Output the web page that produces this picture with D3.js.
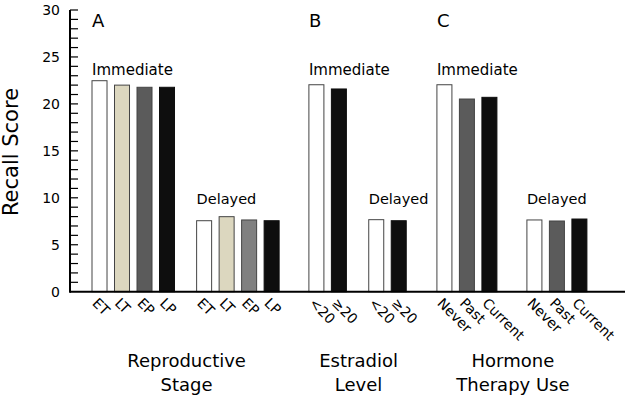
<!DOCTYPE html>
<html>
<head>
<meta charset="utf-8">
<script src="https://cdn.jsdelivr.net/npm/d3@7/dist/d3.min.js"></script>
<style>
  body { margin: 0; background: #fff; }
  svg { display: block; font-family: "DejaVu Sans", Verdana, sans-serif; }
</style>
</head>
<body>
<svg id="chart" width="629" height="400"></svg>
<script>
// ---- data ----
const panelLetters = ["A", "B", "C"];
const panelTitles = [["Reproductive", "Stage"], ["Estradiol", "Level"], ["Hormone", "Therapy Use"]];
const measureLabels = ["Immediate", "Delayed"];

const reproCats = ["ET", "LT", "EP", "LP"];
const reproImmediate = [22.47, 22.0, 21.77, 21.77];
const reproDelayed = [7.56, 7.99, 7.64, 7.56];

const estradiolCats = ["<20", "≥20"];
const estradiolImmediate = [22.04, 21.59];
const estradiolDelayed = [7.67, 7.56];

const hormoneCats = ["Never", "Past", "Current"];
const hormoneImmediate = [22.04, 20.52, 20.70];
const hormoneDelayed = [7.64, 7.53, 7.74];

const yTickLabels = [0, 5, 10, 15, 20, 25, 30];

// ---- styling / layout ----
const colors = {
  A: [["#ffffff", "#dcd7bf", "#5b5b5b", "#0e0e0e"], ["#ffffff", "#dcd7bf", "#808080", "#0e0e0e"]],
  B: [["#ffffff", "#0e0e0e"], ["#ffffff", "#0e0e0e"]],
  C: [["#ffffff", "#5b5b5b", "#0e0e0e"], ["#ffffff", "#5b5b5b", "#0e0e0e"]]
};
const groupStarts = { A: [0, 4.65], B: [9.64, 12.3], C: [15.33, 19.33] };
const panelData = {
  A: { cats: reproCats, vals: [reproImmediate, reproDelayed] },
  B: { cats: estradiolCats, vals: [estradiolImmediate, estradiolDelayed] },
  C: { cats: hormoneCats, vals: [hormoneImmediate, hormoneDelayed] }
};

const svg = d3.select("#chart");
const x = d3.scaleLinear().domain([-0.978, 23.69]).range([70, 625]);
const y = d3.scaleLinear().domain([0, 30]).range([291.7, 10]);
const barW = x(0.667) - x(0);

// bars
panelLetters.forEach((p, pi) => {
  const pd = panelData[p];
  pd.vals.forEach((series, gi) => {
    const start = groupStarts[p][gi];
    const g = svg.append("g");
    g.selectAll("rect").data(series).join("rect")
      .attr("x", (d, i) => x(start + i))
      .attr("y", d => y(d))
      .attr("width", barW)
      .attr("height", d => y(0) - y(d))
      .attr("fill", (d, i) => colors[p][gi][i])
      .attr("stroke", (d, i) => colors[p][gi][i] === "#0e0e0e" ? "#0e0e0e" : "#444")
      .attr("stroke-width", 1);

    // category tick labels
    g.selectAll("text.cat").data(pd.cats).join("text")
      .attr("class", "cat")
      .attr("transform", (d, i) => `translate(${x(start + i) + barW / 2 - 8},${304}) rotate(45)`)
      .attr("font-size", 14)
      .attr("fill", "#000")
      .text(d => d);

    // measure label
    svg.append("text")
      .attr("x", x(start))
      .attr("y", y(gi === 0 ? 23.1 : 9.3))
      .attr("font-size", gi === 0 ? 15 : 14.5)
      .text(measureLabels[gi]);
  });

  // panel letter
  svg.append("text")
    .attr("x", x(groupStarts[p][0]))
    .attr("y", 27)
    .attr("font-size", 18)
    .text(p);

  // panel title
  const first = x(groupStarts[p][0]);
  const last = x(groupStarts[p][1] + pd.cats.length - 1) + barW;
  const cx = (first + last) / 2 + 1;
  panelTitles[pi].forEach((line, li) => {
    svg.append("text")
      .attr("x", cx)
      .attr("y", 367 + li * 24)
      .attr("text-anchor", "middle")
      .attr("font-size", 18)
      .text(line);
  });
});

// y axis: minor ticks inside
const yAxisG = svg.append("g").attr("transform", `translate(${x.range()[0]},0)`);
yAxisG.selectAll("line.tick").data(d3.range(1, 31)).join("line")
  .attr("x1", 0).attr("x2", 8)
  .attr("y1", d => y(d)).attr("y2", d => y(d))
  .attr("stroke", "#000").attr("stroke-width", 1.2);
yAxisG.selectAll("text").data(yTickLabels).join("text")
  .attr("x", -10)
  .attr("y", d => y(d))
  .attr("dy", "0.36em")
  .attr("text-anchor", "end")
  .attr("font-size", 14)
  .text(d => d);
yAxisG.append("line")
  .attr("x1", 0).attr("x2", 0)
  .attr("y1", y(0) + 1).attr("y2", y(30))
  .attr("stroke", "#000").attr("stroke-width", 2);

// baseline
svg.append("line")
  .attr("x1", x.range()[0]).attr("x2", x.range()[1])
  .attr("y1", y(0)).attr("y2", y(0))
  .attr("stroke", "#000").attr("stroke-width", 2);

// y axis title
svg.append("text")
  .attr("transform", `translate(18,${152}) rotate(-90)`)
  .attr("text-anchor", "middle")
  .attr("font-size", 21)
  .text("Recall Score");
</script>
</body>
</html>
